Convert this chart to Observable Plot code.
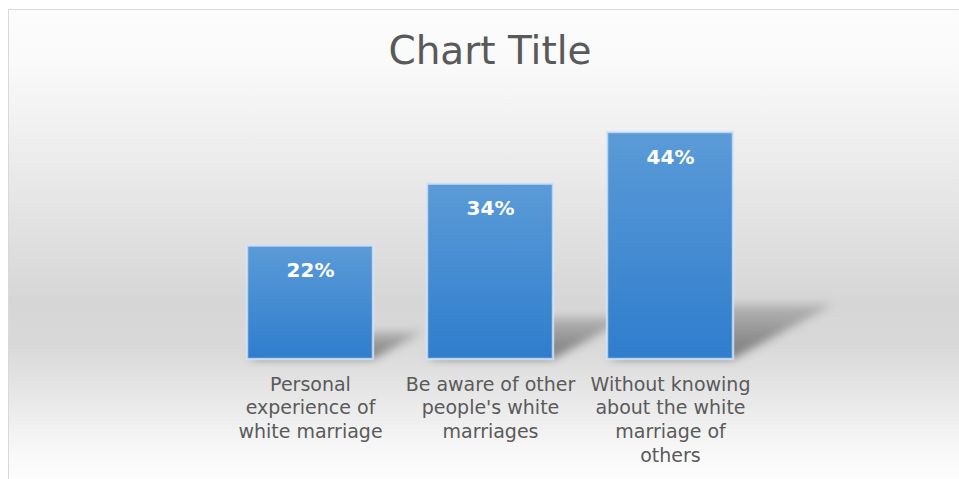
<!DOCTYPE html>
<html>
<head>
<meta charset="utf-8">
<script src="https://cdn.jsdelivr.net/npm/d3@7"></script>
<script src="https://cdn.jsdelivr.net/npm/@observablehq/plot@0.6"></script>
<style>
  html, body { margin: 0; padding: 0; background: #ffffff; overflow: hidden; width: 959px; height: 479px; }
  #chart {
    position: absolute; left: 8px; top: 9px; width: 963px; height: 470px; box-sizing: border-box;
    border-left: 1px solid #d9d9d9; border-top: 1px solid #d9d9d9;
    background: linear-gradient(to bottom, #fcfcfc 0%, #fafafa 11%, #e6e6e6 40%, #d6d6d6 62%, #d8d8d8 71%, #e8e8e8 83%, #f8f8f8 94%, #fdfdfd 100%);
    font-family: "DejaVu Sans", sans-serif;
  }
  #title {
    height: 80px; box-sizing: border-box; padding-top: 4px; line-height: 74px;
    text-align: center; font-size: 39px; color: #595959; font-family: "DejaVu Sans", sans-serif;
  }
  #plot svg { display: block; }
</style>
</head>
<body>
<div id="chart">
  <div id="title">Chart Title</div>
  <div id="plot"></div>
</div>
<script>
const categories = [
  "Personal experience of white marriage",
  "Be aware of other people's white marriages",
  "Without knowing about the white marriage of others"
];
const values = [22, 34, 44];
const tickLabels = [
  "Personal\nexperience of\nwhite marriage",
  "Be aware of other\npeople's white\nmarriages",
  "Without knowing\nabout the white\nmarriage of\nothers"
];

const data = categories.map((c, i) => ({category: c, value: values[i], label: tickLabels[i]}));
const labelOf = new Map(data.map(d => [d.category, d.label]));

const W = 962, H = 389;
const chart = Plot.plot({
  width: W,
  height: H,
  marginLeft: 210,
  marginRight: 210,
  marginTop: 11,
  marginBottom: 120,
  style: {background: "transparent", fontFamily: "'DejaVu Sans', sans-serif", overflow: "visible"},
  x: {domain: categories, paddingInner: 0.3, paddingOuter: 0.15, label: null},
  y: {domain: [0, 50], axis: null},
  marks: [
    Plot.barY(data, {x: "category", y: "value", fill: "url(#shadowGrad)", ariaLabel: "shadow"}),
    Plot.barY(data, {x: "category", y: "value", fill: "url(#barGrad)", stroke: "#d4e5f6", strokeWidth: 2.5, strokeOpacity: 0.8, ariaLabel: "bars"}),
    Plot.text(data, {x: "category", y: "value", text: d => d.value + "%", dy: 25, fill: "#ffffff", fontWeight: "bold", fontSize: 20}),
    Plot.axisX({tickSize: 0, tickPadding: 14, fontSize: 19, lineHeight: 1.26, color: "#5a5a5a", tickFormat: d => labelOf.get(d), label: null})
  ]
});
document.getElementById("plot").appendChild(chart);

const svg = d3.select(chart);
const defs = svg.insert("defs", ":first-child");
const g = defs.append("linearGradient").attr("id", "barGrad").attr("x1", 0).attr("y1", 0).attr("x2", 0).attr("y2", 1);
g.append("stop").attr("offset", "0%").attr("stop-color", "#5b9bd7");
g.append("stop").attr("offset", "100%").attr("stop-color", "#2f7dcd");
const sg = defs.append("linearGradient").attr("id", "shadowGrad").attr("x1", 0).attr("y1", 0).attr("x2", 0).attr("y2", 1);
sg.append("stop").attr("offset", "0%").attr("stop-color", "#555555").attr("stop-opacity", 0.25);
sg.append("stop").attr("offset", "60%").attr("stop-color", "#555555").attr("stop-opacity", 0.55);
sg.append("stop").attr("offset", "100%").attr("stop-color", "#555555").attr("stop-opacity", 0.7);
const f = defs.append("filter").attr("id", "shadowBlur")
  .attr("filterUnits", "userSpaceOnUse").attr("x", 0).attr("y", 0).attr("width", W).attr("height", H);
f.append("feGaussianBlur").attr("in", "SourceGraphic").attr("stdDeviation", 4);

const ys = chart.scale("y");
const base = d3.scaleLinear(ys.domain, ys.range)(0);
let shadowG = svg.selectAll("g").filter(function() { return this.getAttribute("aria-label") === "shadow"; });
if (shadowG.empty()) shadowG = d3.select(svg.selectAll("g").nodes().find(n => n.querySelector("rect")));
const node = shadowG.node();
const wrap = document.createElementNS("http://www.w3.org/2000/svg", "g");
node.parentNode.insertBefore(wrap, node);
wrap.appendChild(node);
wrap.setAttribute("filter", "url(#shadowBlur)");
wrap.style.filter = "blur(4px)";
shadowG.attr("transform", `translate(0,${base}) matrix(1,0,-0.44,0.24,0,0) translate(0,${-base})`);
</script>
</body>
</html>
